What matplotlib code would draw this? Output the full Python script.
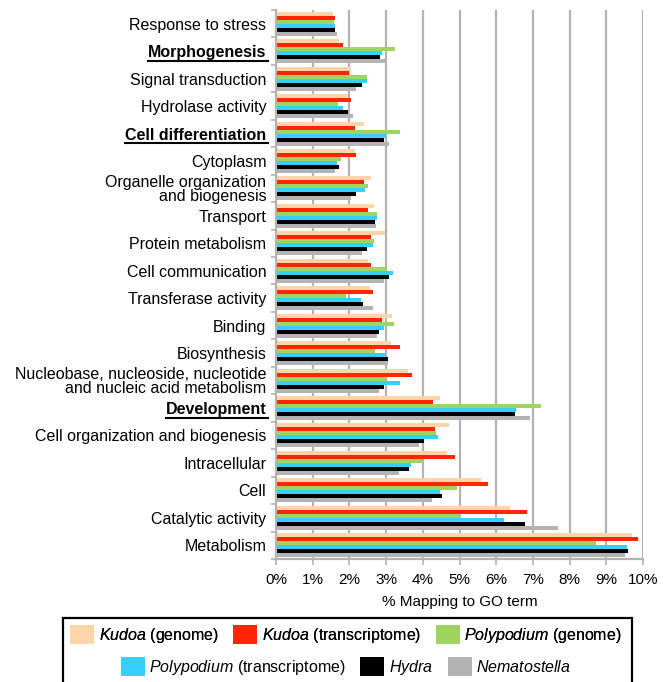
import numpy as np
import matplotlib.pyplot as plt
from matplotlib.patches import Patch, Rectangle
from matplotlib.lines import Line2D
from matplotlib.ticker import FuncFormatter, FixedLocator

plt.rcParams['font.family'] = ['Liberation Sans', 'DejaVu Sans']
plt.rcParams['mathtext.fontset'] = 'custom'
plt.rcParams['mathtext.it'] = 'Liberation Sans:italic'
plt.rcParams['mathtext.rm'] = 'Liberation Sans'

# GO terms, top to bottom
terms = ['Response to stress', 'Morphogenesis', 'Signal transduction',
         'Hydrolase activity', 'Cell differentiation', 'Cytoplasm',
         'Organelle organization\nand biogenesis', 'Transport',
         'Protein metabolism', 'Cell communication', 'Transferase activity',
         'Binding', 'Biosynthesis',
         'Nucleobase, nucleoside, nucleotide\nand nucleic acid metabolism',
         'Development', 'Cell organization and biogenesis', 'Intracellular',
         'Cell', 'Catalytic activity', 'Metabolism']
highlighted = ['Morphogenesis', 'Cell differentiation', 'Development']

# % of sequences mapping to each term
kudoa_genome = [1.54, 1.72, 2.04, 1.97, 2.39, 2.16, 2.58, 2.67, 2.96, 2.50,
                2.56, 3.17, 3.13, 3.60, 4.46, 4.71, 4.65, 5.59, 6.38, 9.69]
kudoa_transcriptome = [1.62, 1.83, 1.98, 2.05, 2.16, 2.18, 2.40, 2.50, 2.58, 2.58,
                       2.64, 2.89, 3.39, 3.70, 4.29, 4.33, 4.88, 5.78, 6.85, 9.87]
polypodium_genome = [1.57, 3.25, 2.48, 1.70, 3.39, 1.78, 2.50, 2.74, 2.67, 3.00,
                     1.91, 3.21, 2.70, 2.99, 7.23, 4.37, 3.97, 4.93, 5.00, 8.73]
polypodium_transcriptome = [1.60, 2.88, 2.49, 1.82, 3.00, 1.67, 2.43, 2.75, 2.64, 3.19,
                            2.32, 2.95, 2.97, 3.38, 6.54, 4.41, 3.67, 4.47, 6.22, 9.56]
hydra = [1.60, 2.83, 2.35, 1.96, 2.95, 1.72, 2.18, 2.70, 2.48, 3.08,
         2.37, 2.81, 3.04, 2.95, 6.52, 4.03, 3.63, 4.51, 6.78, 9.58]
nematostella = [1.65, 2.98, 2.18, 2.10, 3.09, 1.61, 2.04, 2.72, 2.34, 2.95,
                2.64, 2.76, 3.05, 2.82, 6.92, 3.90, 3.35, 4.24, 7.69, 9.51]

series = [kudoa_genome, kudoa_transcriptome, polypodium_genome,
          polypodium_transcriptome, hydra, nematostella]
labels = [r'$\mathit{Kudoa}$ (genome)', r'$\mathit{Kudoa}$ (transcriptome)',
          r'$\mathit{Polypodium}$ (genome)', r'$\mathit{Polypodium}$ (transcriptome)',
          r'$\mathit{Hydra}$', r'$\mathit{Nematostella}$']
colors = ['#fdd5a8', '#ff2600', '#9fd45f', '#36d0fe', '#000000', '#b3b3b3']
grid_gray = '#b3b3b3'

fig = plt.figure(figsize=(6.66, 6.82), dpi=100)
ax = fig.add_axes([0.4144, 0.1804, 0.5511, 0.8049])

y = np.arange(len(terms))
h = 0.146
for i, (vals, col) in enumerate(zip(series, colors)):
    ax.barh(y + (i - 2.5) * h, vals, height=h, color=col, zorder=2)

ax.set_xlim(0, 10)
ax.set_ylim(len(terms) - 0.5, -0.5)
ax.set_xticks(np.arange(0, 11, 1))
ax.xaxis.set_major_formatter(FuncFormatter(lambda v, p: f'{int(v)}%'))
ax.set_yticks(y)
ax.set_yticklabels(terms, fontsize=11.5, linespacing=0.92)
ax.yaxis.set_minor_locator(FixedLocator(np.arange(-0.5, len(terms), 1)))
ax.tick_params(axis='y', which='major', length=0, pad=7)
ax.tick_params(axis='y', which='minor', length=3.5, width=1.2, color=grid_gray)
ax.tick_params(axis='x', length=4, width=1.2, color=grid_gray, labelsize=11, pad=6)

ax.xaxis.grid(True, color=grid_gray, lw=1.6, zorder=0)
ax.set_axisbelow(True)
for side in ['top', 'right']:
    ax.spines[side].set_visible(False)
for side in ['left', 'bottom']:
    ax.spines[side].set_color(grid_gray)
    ax.spines[side].set_linewidth(1.6)

ax.set_xlabel('% Mapping to GO term', fontsize=11, labelpad=6)

# bold + underlined terms
for lab in ax.get_yticklabels():
    if lab.get_text() in highlighted:
        lab.set_fontweight('bold')
fig.canvas.draw()
renderer = fig.canvas.get_renderer()
for lab in ax.get_yticklabels():
    if lab.get_text() in highlighted:
        bb = lab.get_window_extent(renderer)
        x0, x1 = bb.x0 / fig.bbox.width, bb.x1 / fig.bbox.width
        yy = (bb.y0 - 0.5) / fig.bbox.height
        fig.add_artist(Line2D([x0, x1 + 2 / fig.bbox.width], [yy, yy], color='black', lw=1.5,
                              transform=fig.transFigure))

# legend: two centred rows inside one box
handles = [Patch(facecolor=c, edgecolor='none') for c in colors]
leg_kw = dict(frameon=False, ncol=3, loc='center', fontsize=11.5,
              handlelength=1.5, handleheight=1.45, handletextpad=0.3,
              columnspacing=0.9, borderpad=0)
leg1 = fig.legend(handles[:3], labels[:3], bbox_to_anchor=(346 / 666, 1 - 635 / 682), **leg_kw)
leg2 = fig.legend(handles[3:], labels[3:], bbox_to_anchor=(346 / 666, 1 - 667 / 682), **leg_kw)
fig.add_artist(leg1)
fig.add_artist(Rectangle((62.7 / 666, -0.05), (631.7 - 62.7) / 666, 0.05 + 1 - 618 / 682,
                         fill=False, edgecolor='black', lw=1.6,
                         transform=fig.transFigure, clip_on=False))

fig.savefig('out.png', dpi=100)
